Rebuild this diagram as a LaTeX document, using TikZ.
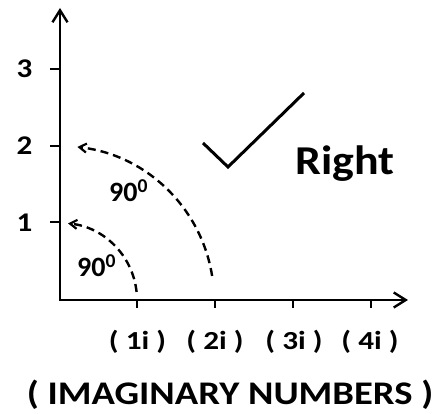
\documentclass[tikz,border=0pt]{standalone}
\usepackage{fontspec}
\usepackage{graphicx}
\setmainfont{Carlito}
\usetikzlibrary{arrows.meta}
\newcommand{\fsz}[1]{\fontsize{#1}{#1}\selectfont\bfseries}
\newcommand{\wide}[2][1.15]{\scalebox{#1}[1]{#2}}
\tikzset{
  axisline/.style={line width=2.6pt, line join=miter,
    {Straight Barb[length=12pt,width=15pt,line width=2.4pt]}-{Straight Barb[length=12pt,width=15pt,line width=2.4pt]}},
  tickline/.style={line width=2.2pt},
  arcline/.style={line width=2.4pt, dash pattern=on 8pt off 5pt,
    -{Straight Barb[length=7pt,width=9pt,line width=2.2pt]}},
  checkline/.style={line width=3pt, line join=miter},
  lbl/.style={inner sep=0pt, anchor=base},
}
\begin{document}
\begin{tikzpicture}[x=1pt,y=1pt]
\useasboundingbox (0,0) rectangle (432,414);
% axes
\coordinate (O) at (60,114);
\coordinate (Ytop) at (60,406);
\coordinate (Xend) at (408,114);
\draw[axisline] (Ytop) -- (O) -- (Xend);
% y ticks
\foreach \n/\yy in {1/192,2/268,3/345}{
  \coordinate (yt\n) at (50,\yy);
  \coordinate (ya\n) at (60,\yy);
  \draw[tickline] (yt\n) -- (ya\n);
}
% x ticks
\foreach \n/\xx in {1/137,2/215,3/293,4/371}{
  \coordinate (xa\n) at (\xx,114);
  \coordinate (xt\n) at (\xx,106);
  \draw[tickline] (xa\n) -- (xt\n);
}
% y labels
\node[lbl] (l1) at (24.5,182.5) {\fsz{27}\wide{1}};
\node[lbl] (l2) at (24.5,259) {\fsz{27}\wide{2}};
\node[lbl] (l3) at (24.5,336) {\fsz{27}\wide{3}};
% x labels
\node[lbl] (i1) at (137.5,64) {\fsz{26}\wide[1.2]{( 1i )}};
\node[lbl] (i2) at (215,64) {\fsz{26}\wide[1.2]{( 2i )}};
\node[lbl] (i3) at (294,64) {\fsz{26}\wide[1.2]{( 3i )}};
\node[lbl] (i4) at (370,64) {\fsz{26}\wide[1.2]{( 4i )}};
\node[lbl] (title) at (230,9) {\fsz{33}\wide[1.17]{( IMAGINARY NUMBERS )}};
% arcs
\coordinate (s1) at ({60+77*cos(6)},{114+77*sin(6)});
\draw[arcline] (s1) arc[start angle=6, end angle=84, radius=77];
\coordinate (b1) at ({60+154*cos(9)},{114+154*sin(9)});
\draw[arcline] (b1) arc[start angle=9, end angle=83.5, radius=154];
\node[lbl, anchor=base west] (a1) at (77,137) {\fsz{28}90\textsuperscript{0}};
\node[lbl, anchor=base west] (a2) at (109,212) {\fsz{28}90\textsuperscript{0}};
% check mark
\coordinate (c1) at (203,271);
\coordinate (c2) at (228,247);
\coordinate (c3) at (304,321);
\draw[checkline] (c1) -- (c2) -- (c3);
\node[lbl] (right) at (345,239) {\fsz{41}\wide[1.12]{Right}};
\end{tikzpicture}
\end{document}
